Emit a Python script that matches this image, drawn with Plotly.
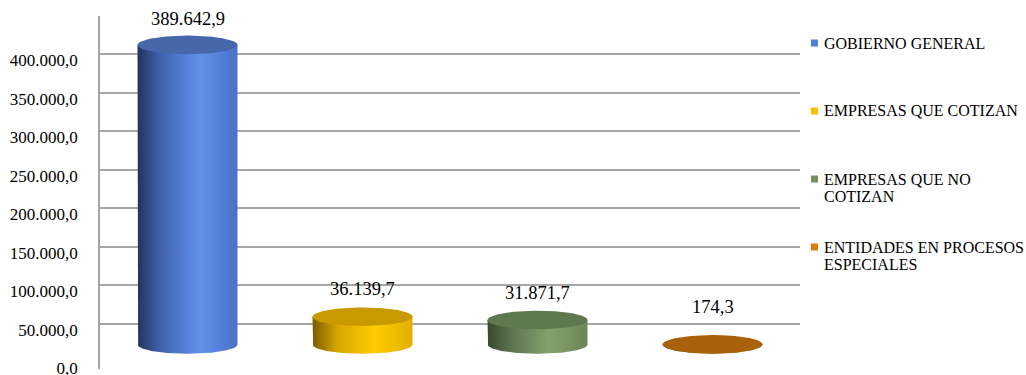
import textwrap
import numpy as np
import plotly.graph_objects as go

# ---- data -------------------------------------------------------------
categories = [
    "GOBIERNO GENERAL",
    "EMPRESAS QUE COTIZAN",
    "EMPRESAS QUE NO COTIZAN",
    "ENTIDADES EN PROCESOS ESPECIALES",
]
values = [389642.9, 36139.7, 31871.7, 174.3]
tick_values = [0, 50000, 100000, 150000, 200000, 250000, 300000, 350000, 400000]
grid_values = [50000, 100000, 150000, 200000, 250000, 300000, 350000, 400000, 450000]

# ---- styling ----------------------------------------------------------
side_scales = [
    [[0, "#22345c"], [0.25, "#4366b4"], [0.62, "#628fea"], [1, "#4a71c8"]],
    [[0, "#7a5b00"], [0.25, "#d6a600"], [0.62, "#ffcc00"], [1, "#e3af00"]],
    [[0, "#384a2d"], [0.25, "#5e7550"], [0.62, "#86a16c"], [1, "#6b8556"]],
    [[0, "#784000"], [0.62, "#d7800f"], [1, "#b8690b"]],
]
top_colors = ["#4767aa", "#c89a00", "#607850", "#aa610c"]
swatch_colors = ["#4f7fd9", "#ffc000", "#76915c", "#e27a0e"]
label_shift = [26, 28, 27, 37]

FONT = "Liberation Serif"
W, H = 1026, 375
WALL_H = 346                      # pixel height of the 0 .. 450.000 wall
BELOW_PX = 7                      # extra room under the wall's zero line
M_L, M_R, M_T = 100, 226, 16
M_B = H - M_T - WALL_H - BELOW_PX
plot_w = W - M_L - M_R
Y_MAX = 450000
units_per_px = Y_MAX / WALL_H
# the cylinders stand on a floor drawn in front of the back wall,
# so the wall scale (grid + tick labels) sits a few pixels higher
floor_drop = 17.5 * units_per_px
y_hi = Y_MAX - floor_drop
y_lo = y_hi - (WALL_H + BELOW_PX) * units_per_px
rx = 50 / (plot_w / len(categories))   # half width in category units
ry = 9.3 * units_per_px                # half height of the elliptical caps
plot_h = WALL_H + BELOW_PX


def fmt_es(v):
    return f"{v:,.1f}".replace(",", "X").replace(".", ",").replace("X", ".")


def wall(v):
    """Position of a back-wall value on the cylinder axis."""
    return v - floor_drop


fig = go.Figure()

t_low = np.linspace(np.pi, 2 * np.pi, 80)
t_all = np.linspace(0, 2 * np.pi, 120)
for i, (name, v) in enumerate(zip(categories, values)):
    # cylinder body: straight sides plus the front half of the base ellipse
    xs = np.concatenate([[i - rx], i + rx * np.cos(t_low), [i + rx, i - rx]])
    ys = np.concatenate([[v], ry * np.sin(t_low), [v, v]])
    fig.add_trace(go.Scatter(
        x=xs, y=ys, mode="lines", fill="toself",
        line=dict(width=0), showlegend=False, hoverinfo="skip",
        fillgradient=dict(type="horizontal", colorscale=side_scales[i]),
    ))
    # top cap
    fig.add_trace(go.Scatter(
        x=i + rx * np.cos(t_all), y=v + ry * np.sin(t_all),
        mode="lines", fill="toself", fillcolor=top_colors[i],
        line=dict(width=0), showlegend=False, name=name,
        hovertemplate=f"{name}: {fmt_es(v)}<extra></extra>",
    ))
    fig.add_annotation(
        x=i, y=v, xref="x", yref="y", yshift=label_shift[i],
        text=fmt_es(v), showarrow=False,
        font=dict(family=FONT, size=18.5, color="#000000"),
    )

# legend drawn as swatches + text at the right of the plot
legend_top_px = 43
legend_step_px = 68
line_step_px = 17
for i, name in enumerate(categories):
    cy = legend_top_px + i * legend_step_px
    yp = (H - M_B - cy) / plot_h
    x0 = (811 - M_L) / plot_w
    x1 = (818 - M_L) / plot_w
    half = 3.5 / plot_h
    fig.add_shape(type="rect", xref="paper", yref="paper",
                  x0=x0, x1=x1, y0=yp - half, y1=yp + half,
                  fillcolor=swatch_colors[i], line=dict(width=0))
    for j, line in enumerate(textwrap.wrap(name, 22)):
        fig.add_annotation(
            xref="paper", yref="paper",
            x=(822 - M_L) / plot_w, y=yp - j * line_step_px / plot_h,
            xanchor="left", yanchor="middle", text=line, showarrow=False,
            font=dict(family=FONT, size=16, color="#000000"),
        )

fig.update_layout(
    width=W, height=H,
    margin=dict(l=M_L, r=M_R, t=M_T, b=M_B, autoexpand=False),
    paper_bgcolor="white", plot_bgcolor="white",
    showlegend=False,
    xaxis=dict(range=[-0.5, len(categories) - 0.5], showgrid=False,
               automargin=False,
               zeroline=False, showticklabels=False, showline=False),
    yaxis=dict(
        range=[y_lo, y_hi],
        automargin=False,
        tickmode="array",
        tickvals=[wall(v) for v in tick_values],
        ticktext=[fmt_es(v) for v in tick_values],
        showgrid=False, zeroline=False,
        showline=True, linecolor="#a6a6a6", linewidth=1.5, ticks="",
        ticklabelstandoff=17, ticklabelshift=6, ticklabeloverflow="allow",
        tickfont=dict(family=FONT, size=17, color="#000000"),
        minor=dict(tickmode="array", tickvals=[wall(v) for v in grid_values],
                   showgrid=True, gridcolor="#a6a6a6", gridwidth=1.5,
                   ticks=""),
    ),
)

fig.write_html("out.html")
